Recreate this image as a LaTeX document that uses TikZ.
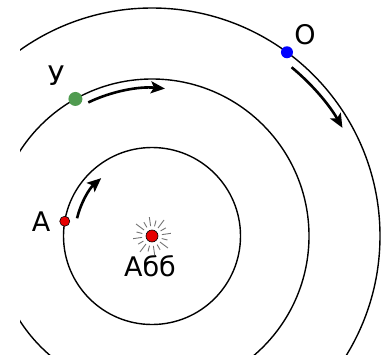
\documentclass[tikz,border=0pt]{standalone}
\usepackage{fontspec}
\setmainfont{DejaVu Sans}
\usetikzlibrary{arrows.meta,calc}
\definecolor{pgreen}{RGB}{80,155,80}
\definecolor{pred}{RGB}{230,0,0}
\begin{document}
\begin{tikzpicture}[x=1pt,y=1pt,
  orbit/.style={line width=1.4pt},
  motion/.style={line width=2.6pt,-{Stealth[length=14pt,width=12pt,inset=3pt]}},
  body/.style={circle,draw=black,line width=0.6pt,inner sep=0pt},
  lbl/.style={font=\fontsize{27}{32}\selectfont,inner sep=0pt},
  ray/.style={black!55,line width=0.9pt}]
\useasboundingbox (0,0) rectangle (390,354);
\coordinate (S) at (152,118);
\begin{scope}
\clip (20,0) rectangle (390,354);
\draw[orbit] (S) circle[radius=88.5];
\draw[orbit] (S) circle[radius=157];
\draw[orbit] (S) circle[radius=228];
\end{scope}
% sun rays
\foreach \a/\r in {0/19,22.5/16,45/20,67.5/16,90/19,112.5/16,135/20,157.5/16,180/19,202.5/16,225/20,247.5/16,270/19,292.5/16,315/20,337.5/16}{
  \draw[ray] ($(S)+(\a+8:10)$) -- ($(S)+(\a+8:\r)$);
}
\node[body,fill=pred,minimum size=12pt] (sun) at (S) {};
\node[lbl] (abb) at (150,88) {Абб};
% motion arrows
\draw[motion] ([shift={(166.7:77)}]S) arc[start angle=166.7,end angle=131.3,radius=77];
\draw[motion] ([shift={(115.5:148)}]S) arc[start angle=115.5,end angle=85,radius=148];
\draw[motion] ([shift={(50.4:219)}]S) arc[start angle=50.4,end angle=29.6,radius=219];
% bodies
\node[body,fill=pred,minimum size=10pt] (a) at ([shift={(170.4:88.5)}]S) {};
\node[body,fill=pgreen,minimum size=14pt,draw=none] (u) at ([shift={(119.2:157)}]S) {};
\node[body,fill=blue,minimum size=12pt,draw=none] (o) at ([shift={(53.7:228)}]S) {};
\node[lbl] (la) at (41,132) {А};
\node[lbl] (lu) at (56,278) {У};
\node[lbl] (lo) at (305,319) {О};
\end{tikzpicture}
\end{document}
